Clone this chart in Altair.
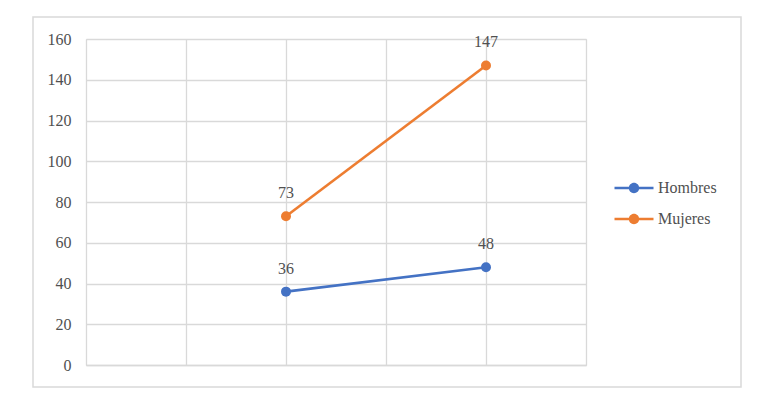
import altair as alt
import pandas as pd

series_names = ["Hombres", "Mujeres"]
x_positions = [2, 4]
hombres = [36, 48]
mujeres = [73, 147]
colors = ["#4472C4", "#ED7D31"]

rows = []
for name, vals in zip(series_names, [hombres, mujeres]):
    for x, v in zip(x_positions, vals):
        rows.append({"x": x, "value": v, "serie": name})
df = pd.DataFrame(rows)

FONT = "Liberation Serif"
TXT = "#505050"
GRID = "#D9D9D9"

x_enc = alt.X("x:Q", scale=alt.Scale(domain=[0, 5], nice=False, zero=False),
              axis=alt.Axis(values=[0, 1, 2, 3, 4, 5], labels=False, ticks=False,
                            domain=True, domainColor=GRID, domainWidth=1.3,
                            grid=True, gridColor=GRID, gridWidth=1.3, title=None))
y_enc = alt.Y("value:Q", scale=alt.Scale(domain=[0, 160], nice=False),
              axis=alt.Axis(values=list(range(0, 161, 20)), ticks=False, domain=False,
                            grid=True, gridColor=GRID, gridWidth=1.3, title=None,
                            labelFont=FONT, labelFontSize=16, labelColor=TXT,
                            labelPadding=15))

symbol_path = ("M-1.95,-0.13H1.95V0.13H-1.95Z "
               "M0.52,0 A0.52,0.52 0 1,1 -0.52,0 A0.52,0.52 0 1,1 0.52,0Z")

color_enc = alt.Color("serie:N", scale=alt.Scale(domain=series_names, range=colors),
                      legend=alt.Legend(title=None, orient="none", legendX=538, legendY=139,
                                        symbolType=symbol_path, symbolSize=400,
                                        symbolStrokeWidth=0, labelFont=FONT,
                                        labelFontSize=16, labelColor=TXT,
                                        rowPadding=13, labelOffset=14, padding=0))

base = alt.Chart(df)

frame = alt.Chart(pd.DataFrame({"a": [0]})).mark_rect(
    fill="white", fillOpacity=0, stroke=GRID, strokeWidth=1.5
).encode(x=alt.value(-53), x2=alt.value(655), y=alt.value(-22), y2=alt.value(348))

lines = base.mark_line(strokeWidth=2.6).encode(x=x_enc, y=y_enc, color=color_enc,
                                                detail="serie:N")
points = base.mark_point(filled=True, size=100, opacity=1).encode(
    x="x:Q", y="value:Q", color=color_enc)
labels = base.mark_text(font=FONT, fontSize=16, color=TXT, dy=-23, baseline="middle").encode(
    x="x:Q", y="value:Q", text="value:Q")

chart = alt.layer(frame, lines, points, labels).properties(
    width=500, height=326,
    autosize=alt.AutoSizeParams(type="none"),
    padding={"left": 78, "top": 31, "right": 180, "bottom": 32},
).configure_view(stroke=None).configure(background="white")

chart.save("out.html", embed_options={"renderer": "svg", "actions": False})
